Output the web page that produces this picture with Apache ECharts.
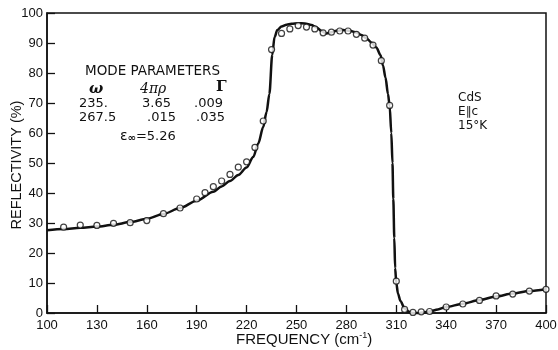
<!DOCTYPE html>
<html><head><meta charset="utf-8">
<script src="https://cdn.jsdelivr.net/npm/echarts@6/dist/echarts.min.js"></script>
<style>html,body{margin:0;padding:0;background:#fff}#c{width:558px;height:350px}</style>
</head><body><div id="c"></div>
<script>
// Fitted curve
const curveFreq = [100,110,120,130,140,150,160,170,180,190,200,205,210,215,220,224,227,230,232,233.7,235.4,236.8,238.5,241,244,247,251,255,259,262,265,268,271,274,278,282,286,289,292,295,298,300.5,302,303.5,305,306,307,307.7,308.2,308.8,309.3,310,311,312.5,315,318,320,324,328,330,335,340,350,360,370,380,390,400];
const curveRefl = [27.6,28.0,28.4,28.8,29.4,30.3,31.4,33.0,35.0,37.4,40.4,42.2,44.0,46.0,48.5,52,56.5,62,67,73,86,92,94.3,95.5,96.1,96.4,96.6,96.5,96.0,95.2,94.0,93.2,93.6,94.1,94.3,94.1,93.5,92.7,91.6,90.2,88.5,86,82.5,78.5,73,69,60,50,38,25,15,10,6.5,4,1.5,0.3,0,0,0.3,0.5,1.2,2.0,3.1,4.3,5.5,6.5,7.3,7.9];
// Measured points (circles)
const pointFreq = [110,120,130,140,150,160,170,180,190,195,200,205,210,215,220,225,230,235,241,246,251,256,261,266,271,276,281,286,291,296,301,306,310,315,320,325,330,340,350,360,370,380,390,400];
const pointRefl = [28.6,29.3,29.2,29.9,30.1,30.8,33.1,35.0,38.0,40.1,42.1,44.0,46.2,48.6,50.4,55.2,64.0,87.8,93.2,94.7,95.8,95.3,94.7,93.4,93.6,94.0,94.0,92.9,91.6,89.3,84.1,69.2,10.6,1.2,0.2,0.4,0.5,2.0,3.0,4.2,5.7,6.3,7.3,7.9];
const xTicks = [100,130,160,190,220,250,280,310,340,370,400];
const yTicks = [0,10,20,30,40,50,60,70,80,90,100];

const FONT = 'Liberation Sans';
const TXT = '13px DejaVu Sans';
const chart = echarts.init(document.getElementById('c'));
chart.setOption({
  animation: false,
  backgroundColor: '#fff',
  grid: {left: 47, right: 12, top: 13, bottom: 37, containLabel: false, outerBoundsMode: 'none',
         show: true, borderColor: '#111', borderWidth: 1.5, backgroundColor: 'transparent'},
  xAxis: {
    type: 'value', min: xTicks[0], max: xTicks[xTicks.length-1], interval: 30,
    axisLine: {show: true, lineStyle: {color: '#111', width: 1.5}},
    axisTick: {show: true, inside: true, length: 8, lineStyle: {color: '#111', width: 1.3}},
    axisLabel: {color: '#111', fontFamily: FONT, fontSize: 13, margin: 6},
    splitLine: {show: false}
  },
  yAxis: {
    type: 'value', min: yTicks[0], max: yTicks[yTicks.length-1], interval: 10,
    axisLine: {show: true, lineStyle: {color: '#111', width: 1.5}},
    axisTick: {show: true, inside: true, length: 8, lineStyle: {color: '#111', width: 1.3}},
    axisLabel: {color: '#111', fontFamily: FONT, fontSize: 13, margin: 4},
    splitLine: {show: false}
  },
  series: [
    {type: 'line', data: curveFreq.map((f,i)=>[f, curveRefl[i]]), showSymbol: false, smooth: 0.3, smoothMonotone: 'x',
     lineStyle: {color: '#111', width: 2.5}, clip: false, z: 2},
    {type: 'scatter', data: pointFreq.map((f,i)=>[f, pointRefl[i]]), symbol: 'circle', symbolSize: 6,
     itemStyle: {color: '#fff', borderColor: '#111', borderWidth: 1.2}, z: 3}
  ],
  graphic: [
    {type: 'text', x: 17, y: 165, rotation: Math.PI/2, style: {text: 'REFLECTIVITY (%)', font: '14.5px ' + FONT, fill: '#111', align: 'center', verticalAlign: 'middle'}},
    {type: 'text', left: 236, top: 331, style: {
      text: '{a|FREQUENCY (cm}{b|-1}{a|)}',
      rich: {a: {font: '15px ' + FONT, fill: '#111', verticalAlign: 'bottom'},
             b: {font: '9px ' + FONT, fill: '#111', padding: [0,0,7,0], verticalAlign: 'bottom'}}}},
    {type: 'text', left: 85, top: 64, style: {text: 'MODE PARAMETERS', font: '13.5px DejaVu Sans', fill: '#111'}},
    {type: 'text', left: 89, top: 82, style: {text: 'ω', font: 'italic bold 15px DejaVu Serif', fill: '#111'}},
    {type: 'text', left: 140, top: 82, style: {text: '4πρ', font: 'italic 14px DejaVu Serif', fill: '#111'}},
    {type: 'text', left: 216, top: 80, style: {text: 'Γ', font: 'bold 15px DejaVu Serif', fill: '#111'}},
    {type: 'text', left: 79, top: 97, style: {text: '235.', font: TXT, fill: '#111'}},
    {type: 'text', left: 142, top: 97, style: {text: '3.65', font: TXT, fill: '#111'}},
    {type: 'text', left: 194, top: 97, style: {text: '.009', font: TXT, fill: '#111'}},
    {type: 'text', left: 79, top: 111, style: {text: '267.5', font: TXT, fill: '#111'}},
    {type: 'text', left: 147, top: 111, style: {text: '.015', font: TXT, fill: '#111'}},
    {type: 'text', left: 196, top: 111, style: {text: '.035', font: TXT, fill: '#111'}},
    {type: 'text', left: 120, top: 129, style: {
      text: '{e|ε}{s|∞}{n|=5.26}',
      rich: {e: {font: '14px DejaVu Sans', fill: '#111', verticalAlign: 'bottom'},
             s: {font: 'bold 10px DejaVu Sans', fill: '#111', padding: [6,0,0,0], verticalAlign: 'bottom'},
             n: {font: TXT, fill: '#111', verticalAlign: 'bottom'}}}},
    {type: 'text', left: 458, top: 92, style: {text: 'CdS', font: '12px DejaVu Sans', fill: '#111'}},
    {type: 'text', left: 458, top: 106, style: {text: 'E∥c', font: '12px DejaVu Sans', fill: '#111'}},
    {type: 'text', left: 458, top: 120, style: {text: '15°K', font: '12px DejaVu Sans', fill: '#111'}}
  ]
});
</script></body></html>
